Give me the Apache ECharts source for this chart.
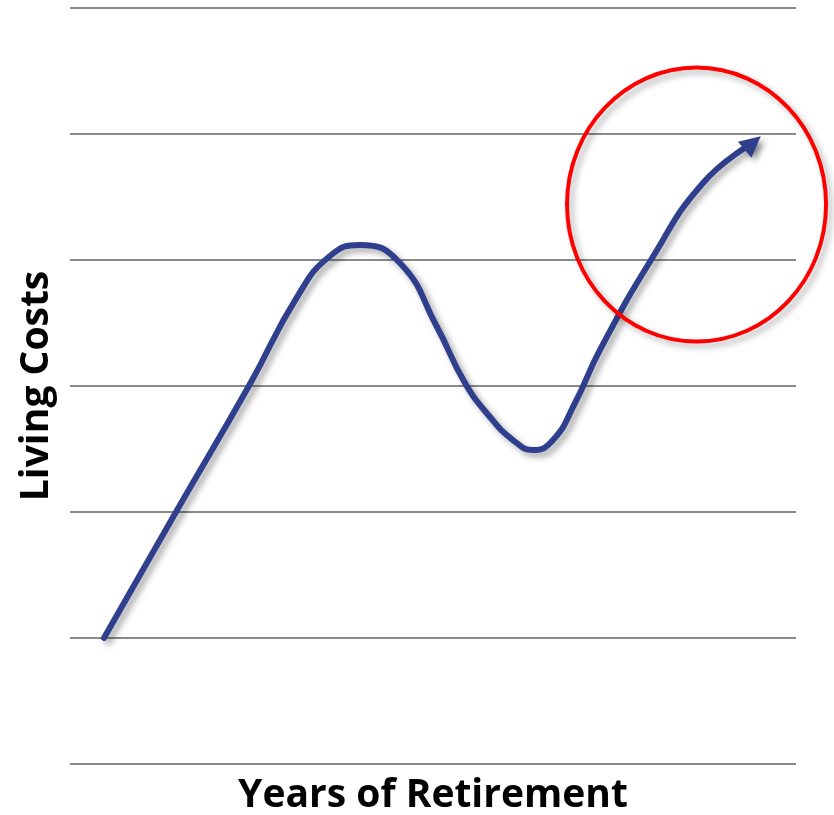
<!DOCTYPE html>
<html>
<head>
<meta charset="utf-8">
<script src="https://cdn.jsdelivr.net/npm/echarts@6/dist/echarts.min.js"></script>
<style>
  html, body { margin: 0; padding: 0; background: #fff; }
  #chart { width: 834px; height: 815px; }
</style>
</head>
<body>
<div id="chart"></div>
<script>
// Living cost trend over the years of retirement (unitless scale)
const years = [4.68, 14.60, 24.79, 31.27, 35.81, 39.94, 45.45, 50.55, 54.41, 57.85,
               61.02, 63.77, 66.53, 69.56, 73.00, 80.03, 87.19, 94.04];
const costs = [1.000, 2.000, 3.016, 3.706, 4.032, 4.119, 3.976, 3.468, 3.024, 2.754,
               2.571, 2.492, 2.571, 2.865, 3.286, 4.000, 4.611, 4.928];
const yTicks = [0, 1, 2, 3, 4, 5, 6];
const xTitle = 'Years of Retirement';
const yTitle = 'Living Costs';
// highlighted region (centre and half-extents in axis units)
const focus = { x: 86.3, y: 4.44, rx: 17.84, ry: 1.087 };

const lineColor = '#2f3f8e';
const arrowPath = 'path://M0,0L10,5L0,10Z';
const shadow = { shadowColor: 'rgba(0,0,0,0.35)', shadowBlur: 6, shadowOffsetX: 4, shadowOffsetY: 4 };

const seriesData = years.map((x, i) => {
  const item = { value: [x, costs[i]] };
  if (i === years.length - 1) {
    item.symbol = arrowPath;
    item.symbolSize = 21;
    item.symbolRotate = 40;
  }
  return item;
});

const chart = echarts.init(document.getElementById('chart'));
const fontFam = '"Open Sans", "Noto Sans", sans-serif';

chart.setOption({
  animation: false,
  grid: { left: 70, right: 38, top: 8, bottom: 51, outerBoundsMode: 'none', containLabel: false },
  xAxis: {
    type: 'value', min: 0, max: 100,
    axisLine: { show: false }, axisTick: { show: false }, axisLabel: { show: false },
    splitLine: { show: false },
    name: xTitle, nameLocation: 'middle', nameGap: 10,
    nameTextStyle: { fontFamily: fontFam, fontWeight: 'bold', fontSize: 39, color: '#000', verticalAlign: 'top', lineHeight: 44 }
  },
  yAxis: {
    type: 'value', min: yTicks[0], max: yTicks[yTicks.length - 1], interval: 1,
    axisLine: { show: false }, axisTick: { show: false }, axisLabel: { show: false },
    splitLine: { show: true, lineStyle: { color: '#8a8a8a', width: 2 } },
    name: yTitle, nameLocation: 'middle', nameGap: 14, nameRotate: 90,
    nameTextStyle: { fontFamily: fontFam, fontWeight: 'bold', fontSize: 39, color: '#000' }
  },
  series: [{
    type: 'line',
    data: seriesData,
    smooth: 0.5,
    symbol: 'none',
    lineStyle: Object.assign({ color: lineColor, width: 6, cap: 'round' }, shadow),
    itemStyle: Object.assign({ color: lineColor }, shadow)
  }]
});

// red ring around the final upswing, placed through the axis scales
const c = chart.convertToPixel({ gridIndex: 0 }, [focus.x, focus.y]);
const e = chart.convertToPixel({ gridIndex: 0 }, [focus.x + focus.rx, focus.y + focus.ry]);
chart.setOption({
  graphic: [{
    type: 'ellipse',
    shape: { cx: c[0], cy: c[1], rx: Math.abs(e[0] - c[0]), ry: Math.abs(c[1] - e[1]) },
    style: {
      fill: null, stroke: '#ff0000', lineWidth: 4,
      shadowColor: 'rgba(0,0,0,0.3)', shadowBlur: 6, shadowOffsetX: 4, shadowOffsetY: 4
    },
    z: 10
  }]
});
</script>
</body>
</html>
